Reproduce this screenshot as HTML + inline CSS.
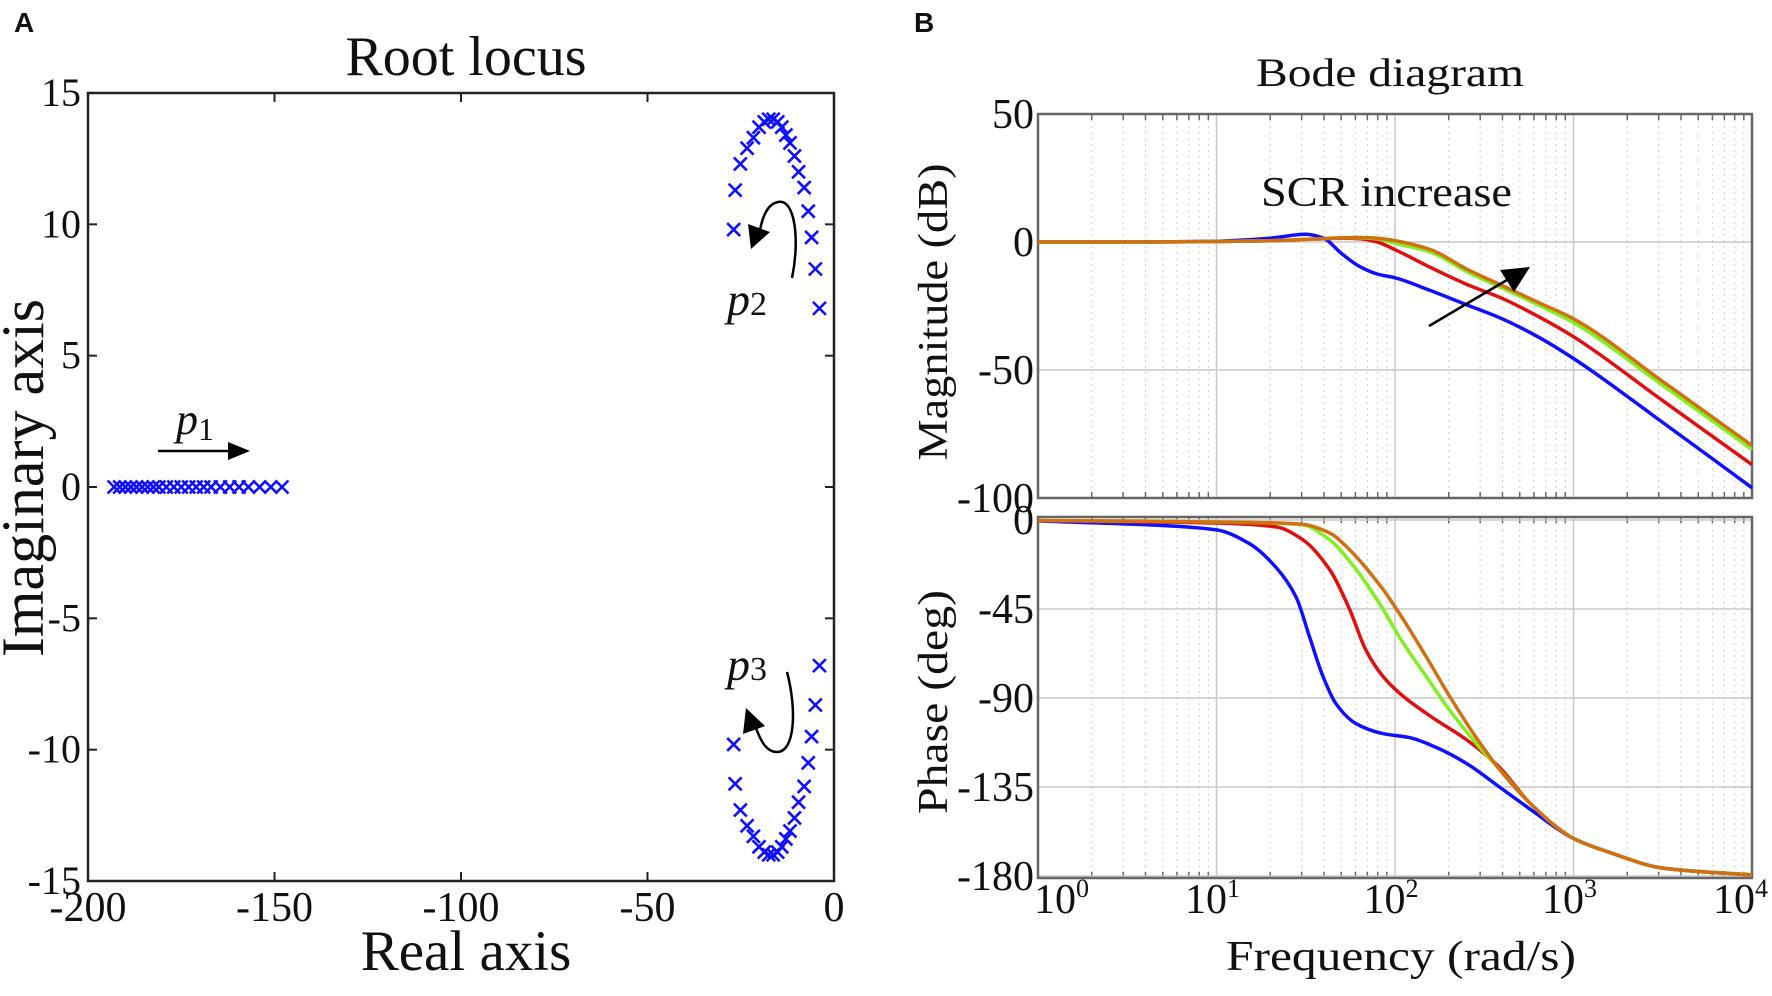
<!DOCTYPE html>
<html><head><meta charset="utf-8"><style>
html,body{margin:0;padding:0;background:#fff;}
svg{display:block;}
text{font-family:"Liberation Serif",serif;fill:#111;}
</style></head><body>
<svg id="fig" width="1772" height="996" viewBox="0 0 1772 996">
<text x="14" y="32" style="font-family:'Liberation Sans',sans-serif;font-weight:bold;font-size:28px">A</text>
<text x="914" y="32" style="font-family:'Liberation Sans',sans-serif;font-weight:bold;font-size:28px">B</text>
<g id="rl"></g>
<g id="bode"></g>
</svg>
<script>
// ---------- Root locus data ----------
const p1Re = [-193,-191.5,-190,-188.5,-187,-185.5,-184,-182.5,-181,-179,-177,-175,-173,-171,-169,-167,-164.5,-162,-159.5,-157,-154,-151,-148];
const p2Re = [-3.9,-5.0,-6.0,-6.9,-8.0,-9.5,-10.6,-11.8,-12.9,-14.0,-15.1,-16.3,-17.5,-18.7,-20.1,-21.6,-23.3,-25.1,-26.5,-26.9];
const p2Im = [6.8,8.3,9.5,10.5,11.4,12.0,12.6,13.1,13.4,13.7,13.9,14.0,14.0,13.9,13.7,13.3,12.9,12.3,11.3,9.8];
const rlXTicks = [-200,-150,-100,-50,0];
const rlYTicks = [15,10,5,0,-5,-10,-15];

// ---------- Bode data ----------
const magW = [0,0.5,1,1.3,1.5,1.6,1.7,1.8,1.9,2,2.2,2.4,2.6,2.8,3,3.5,4];
const magBlue   = [0,0,0.3,1.5,3,1.5,-4.5,-9.5,-12.5,-14,-19,-24.5,-30,-37,-45.5,-70.5,-96];
const magRed    = [0,0,0.2,0.5,1,1.3,1.5,1.3,0,-3,-10,-16.5,-22,-29,-37,-62,-87];
const magGreen  = [0,0,0.2,0.5,1,1.3,1.6,1.6,1.2,-0.5,-4,-11.5,-18,-24.5,-31.5,-56,-81];
const magOrange = [0,0,0.2,0.5,1,1.3,1.6,1.8,1.5,0.5,-3,-10.5,-17,-23.5,-30,-54.5,-79.5];

const phBlueW  = [0,0.625,1,1.185,1.334,1.446,1.521,1.596,1.670,1.782,1.932,2.081,2.230,2.399,2.585,2.754,3,3.2,3.5,4];
const phBlue   = [-0.5,-2.5,-5,-12,-24,-39,-59,-79,-93,-103,-108,-110,-115,-123,-135,-146,-161,-168,-176,-179.5];
const phRedW   = [0,0.625,1,1.334,1.484,1.633,1.745,1.838,1.932,2.044,2.212,2.399,2.585,2.754,3,3.2,3.5,4];
const phRed    = [-0.3,-1,-1.5,-3.5,-10,-25,-45,-66,-79,-89,-100,-111,-125,-143,-161,-168,-176,-179.5];
const phGreenW = [0,0.625,1,1.3,1.484,1.633,1.782,1.932,2.044,2.174,2.305,2.455,2.585,2.754,3,3.2,3.5,4];
const phGreen  = [-0.3,-0.6,-1,-1.5,-2.5,-10,-25,-45,-62,-79,-96,-113,-126,-143,-161,-168,-176,-179.5];
const phOrangeW= [0,0.625,1,1.3,1.484,1.633,1.745,1.932,2.044,2.174,2.305,2.455,2.585,2.754,3,3.2,3.5,4];
const phOrange = [-0.3,-0.6,-1,-1.4,-2.2,-6.5,-15,-35,-50,-69,-89,-110,-126,-143,-161,-168,-176,-179.5];
const magTicks = [50,0,-50,-100];
const phTicks = [0,-45,-90,-135,-180];
const decTicks = [0,1,2,3,4];

const NS='http://www.w3.org/2000/svg';
function mk(tag, attrs, parent){const e=document.createElementNS(NS,tag);for(const k in attrs)e.setAttribute(k,attrs[k]);parent.appendChild(e);return e;}

// ----- Root locus -----
const rl=document.getElementById('rl');
const RX0=88,RX1=834,RY0=93,RY1=881;
const rx=v=>RX0+(v+200)/200*(RX1-RX0);
const ry=v=>RY0+(15-v)/30*(RY1-RY0);
let t=mk('text',{x:466,y:75,'text-anchor':'middle','font-size':56},rl);t.textContent='Root locus';


let fr=mk('rect',{x:RX0,y:RY0,width:RX1-RX0,height:RY1-RY0,fill:'none',stroke:'#222','stroke-width':2.5},rl);


rlXTicks.forEach(v=>{
  const x=rx(v);
  mk('line',{x1:x,y1:RY1,x2:x,y2:RY1-9,stroke:'#222','stroke-width':2},rl);
  mk('line',{x1:x,y1:RY0,x2:x,y2:RY0+9,stroke:'#222','stroke-width':2},rl);
  const l=mk('text',{x:x,y:921,'text-anchor':'middle','font-size':42},rl);l.textContent=String(v);
  
  
});
rlYTicks.forEach(v=>{
  const y=ry(v);
  mk('line',{x1:RX0,y1:y,x2:RX0+9,y2:y,stroke:'#222','stroke-width':2},rl);
  mk('line',{x1:RX1,y1:y,x2:RX1-9,y2:y,stroke:'#222','stroke-width':2},rl);
  const l=mk('text',{x:81,y:y+13,'text-anchor':'end','font-size':40},rl);l.textContent=String(v);
  
  
});
t=mk('text',{x:466,y:970,'text-anchor':'middle','font-size':57},rl);t.textContent='Real axis';


t=mk('text',{x:0,y:0,'text-anchor':'middle','font-size':60,transform:'translate(43,478) rotate(-90)'},rl);t.textContent='Imaginary axis';


function cross(x,y,name){
  const g=mk('g',{stroke:'#1010ff','stroke-width':2.6},rl);
  
  
  const s=6.5;
  mk('line',{x1:x-s,y1:y-s,x2:x+s,y2:y+s},g);mk('line',{x1:x-s,y1:y+s,x2:x+s,y2:y-s},g);
}
p1Re.forEach(v=>cross(rx(v),ry(0),'pole-p1-marker'));
p2Re.forEach((v,i)=>{cross(rx(v),ry(p2Im[i]),'pole-p2-marker');cross(rx(v),ry(-p2Im[i]),'pole-p3-marker');});
let a=mk('line',{x1:158,y1:451,x2:235,y2:451,stroke:'#000','stroke-width':2.5},rl);


mk('polygon',{points:'250,451 228,442 228,460',fill:'#000'},rl);
t=mk('text',{x:176,y:434,'font-size':44,'font-style':'italic'},rl);t.innerHTML='p<tspan font-size="32" font-style="normal" dy="6">1</tspan>';


a=mk('path',{d:'M792,278 C800,240 795,198 778,202 C768,204 763,215 760,230',fill:'none',stroke:'#000','stroke-width':2.5},rl);


mk('polygon',{points:'751,249 748,224 770,232',fill:'#000'},rl);
t=mk('text',{x:727,y:315,'font-size':46,'font-style':'italic'},rl);t.innerHTML='p<tspan font-size="34" font-style="normal">2</tspan>';


a=mk('path',{d:'M787,672 C797,710 795,752 777,752 C766,752 760,740 755,725',fill:'none',stroke:'#000','stroke-width':2.5},rl);


mk('polygon',{points:'746,708 743,734 765,726',fill:'#000'},rl);
t=mk('text',{x:727,y:680,'font-size':46,'font-style':'italic'},rl);t.innerHTML='p<tspan font-size="34" font-style="normal">3</tspan>';



// ----- Bode -----
const bd=document.getElementById('bode');
const BX0=1038,BX1=1752;
const MY0=114,MY1=498, PY0=517,PY1=878;
const bx=v=>BX0+v/4*(BX1-BX0);
const my=v=>MY0+(50-v)/150*(MY1-MY0);
const py=v=>520+(-v)/180*(876-520);
t=mk('text',{x:1390,y:86,'text-anchor':'middle','font-size':40,textLength:268,lengthAdjust:'spacingAndGlyphs'},bd);t.textContent='Bode diagram';


function panel(y0,y1,ticks,yf,name){
  const g=mk('g',{},bd);
  
  
  for(let d=0;d<4;d++)for(let k=2;k<10;k++){
    const x=bx(d+Math.log10(k));
    mk('line',{x1:x,y1:y0,x2:x,y2:y1,stroke:'#ccc','stroke-width':1,'stroke-dasharray':'2,4'},g);
    mk('line',{x1:x,y1:y0,x2:x,y2:y0+6,stroke:'#666','stroke-width':1.5},g);
    mk('line',{x1:x,y1:y1,x2:x,y2:y1-6,stroke:'#666','stroke-width':1.5},g);
  }
  decTicks.forEach(d=>{const x=bx(d);mk('line',{x1:x,y1:y0,x2:x,y2:y1,stroke:'#c8c8c8','stroke-width':1.5},g);});
  ticks.forEach(v=>{const y=yf(v);mk('line',{x1:BX0,y1:y,x2:BX1,y2:y,stroke:'#c8c8c8','stroke-width':1.5},g);});
  mk('rect',{x:BX0,y:y0,width:BX1-BX0,height:y1-y0,fill:'none',stroke:'#666','stroke-width':2.5},g);
  return g;
}
const gm=panel(MY0,MY1,magTicks,my,'magnitude-panel');
const gp=panel(PY0,PY1,phTicks,py,'phase-panel');
magTicks.forEach(v=>{const l=mk('text',{x:1034,y:my(v)+14,'text-anchor':'end','font-size':42},bd);l.textContent=String(v);
  
  });
phTicks.forEach(v=>{const l=mk('text',{x:1034,y:py(v)+14,'text-anchor':'end','font-size':42},bd);l.textContent=String(v);
  
  });
decTicks.forEach(d=>{
  const anchor=d===0?'start':(d===4?'end':'middle');
  const x=d===0?bx(d)-4:(d===4?bx(d)+16:bx(d)-4);
  const l=mk('text',{x:x,y:913,'text-anchor':anchor,'font-size':42},bd);l.innerHTML='10<tspan font-size="26" dy="-16">'+d+'</tspan>';
  
  });
t=mk('text',{x:1401,y:970,'text-anchor':'middle','font-size':42,textLength:350,lengthAdjust:'spacingAndGlyphs'},bd);t.setAttribute('xml:space','preserve');t.textContent='Frequency  (rad/s)';


t=mk('text',{x:0,y:0,'text-anchor':'middle','font-size':42,textLength:297,lengthAdjust:'spacingAndGlyphs',transform:'translate(947,312) rotate(-90)'},bd);t.textContent='Magnitude (dB)';


t=mk('text',{x:0,y:0,'text-anchor':'middle','font-size':42,textLength:224,lengthAdjust:'spacingAndGlyphs',transform:'translate(947,702) rotate(-90)'},bd);t.textContent='Phase (deg)';


function monoPath(xs,ys){
  const n=xs.length,d=[],m=new Array(n);
  for(let i=0;i<n-1;i++)d.push((ys[i+1]-ys[i])/(xs[i+1]-xs[i]));
  m[0]=d[0];m[n-1]=d[n-2];
  for(let i=1;i<n-1;i++){ if(d[i-1]*d[i]<=0)m[i]=0; else {const w1=2*(xs[i+1]-xs[i])+(xs[i]-xs[i-1]),w2=(xs[i+1]-xs[i])+2*(xs[i]-xs[i-1]);m[i]=(w1+w2)/(w1/d[i-1]+w2/d[i]);} }
  let p='M'+xs[0].toFixed(1)+','+ys[0].toFixed(1);
  for(let i=0;i<n-1;i++){const h=xs[i+1]-xs[i];
    p+=' C'+(xs[i]+h/3).toFixed(1)+','+(ys[i]+m[i]*h/3).toFixed(1)+' '+(xs[i+1]-h/3).toFixed(1)+','+(ys[i+1]-m[i+1]*h/3).toFixed(1)+' '+xs[i+1].toFixed(1)+','+ys[i+1].toFixed(1);}
  return p;
}
const colors=['#1010ff','#e01010','#80f020','#d07010'];
const names=['blue','red','green','orange'];
[magBlue,magRed,magGreen,magOrange].forEach((s,i)=>{
  const p=mk('path',{d:monoPath(magW.map(bx),s.map(my)),fill:'none',stroke:colors[i],'stroke-width':3.5},gm);
  
  
});
[[phBlueW,phBlue],[phRedW,phRed],[phGreenW,phGreen],[phOrangeW,phOrange]].forEach((s,i)=>{
  const p=mk('path',{d:monoPath(s[0].map(bx),s[1].map(py)),fill:'none',stroke:colors[i],'stroke-width':3.5},gp);
  
  
});
t=mk('text',{x:1261,y:206,'font-size':42,textLength:251,lengthAdjust:'spacingAndGlyphs'},bd);t.textContent='SCR increase';


a=mk('line',{x1:1429,y1:326,x2:1512,y2:277,stroke:'#000','stroke-width':2.5},bd);


mk('polygon',{points:'1530,267 1500,270 1514,292',fill:'#000'},bd);
</script>
</body></html>
